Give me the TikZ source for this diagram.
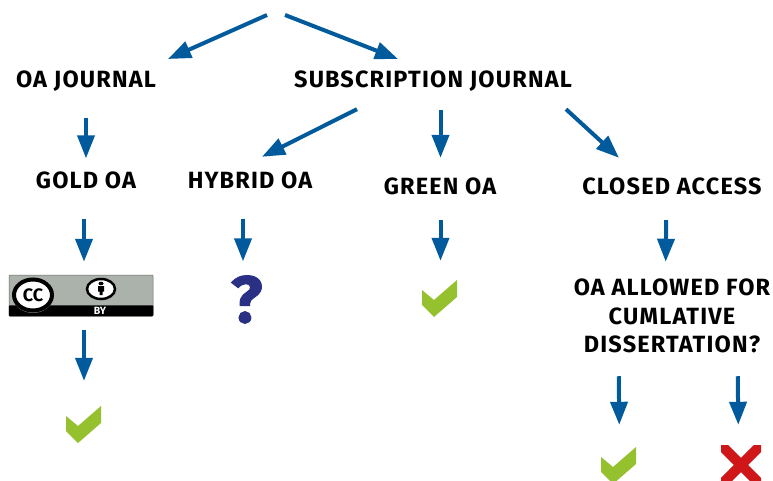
\documentclass[tikz,border=0pt]{standalone}
\usepackage{fontspec}
\setmainfont{Fira Sans}[BoldFont={Fira Sans Bold}]
\newfontfamily\titlefont{Fira Sans Bold}[LetterSpace=5]
\newfontfamily\queryfont{Fira Sans Bold}[FakeBold=1.5]
\usepackage{tikz}
\usetikzlibrary{positioning}
\usetikzlibrary{arrows.meta}
\usetikzlibrary{shapes.geometric}
\definecolor{linkblue}{HTML}{005A9C}
\definecolor{checkgreen}{HTML}{96C12F}
\definecolor{crossred}{HTML}{CF1719}
\definecolor{marknavy}{HTML}{2A3185}
\definecolor{badgegray}{HTML}{AAB2AB}
\tikzset{
  title node/.style={inner sep=0pt,text height=17pt,text depth=0pt,font=\fontsize{23.5}{28.5}\selectfont\titlefont},
  link/.style={-{Triangle[length=23pt,width=17pt]},line width=4pt,draw=linkblue,shorten <=30pt,shorten >=13pt},
  free link/.style={link,shorten <=0pt,shorten >=0pt},
  check node/.style={inner sep=0pt,minimum width=35pt,minimum height=37pt,path picture={
    \fill[checkgreen,shift={(path picture bounding box.center)}] (-17.5,-8.5) -- (-5.5,1.5) -- (17.5,-18.5) -- (17.5,-1.5) -- (-5.5,18.5) -- (-17.5,6.5) -- cycle;}},
  cross node/.style={inner sep=0pt,minimum size=40pt,path picture={
    \draw[crossred,line width=10pt,shift={(path picture bounding box.center)}] (-24,-24) -- (24,24) (-24,24) -- (24,-24);}},
  badge mark/.style={ellipse,fill=white,draw=black,inner sep=0pt},
}
\begin{document}
\begin{tikzpicture}[x=1pt,y=-1pt,on grid,>=Stealth]
  \useasboundingbox (0,0) rectangle (773,481);
  \coordinate (rootl) at (267,15);
  \coordinate (rootr) at (285,15);
  \node[title node] (oaj) at (86,79) {OA JOURNAL};
  \node[title node] (sub) [right = 347pt of oaj] {SUBSCRIPTION JOURNAL};
  \node[title node] (gold) [below = 101pt of oaj] {GOLD OA};
  \node[title node] (hybrid) [right = 164pt of gold] {HYBRID OA};
  \node[title node] (green) [below right = 107pt and 7pt of sub] {GREEN OA};
  \node[title node] (closed) [right = 232pt of green] {CLOSED ACCESS};
  \node[title node,align=center,text height=,text depth=] (allowed) [below = 130pt of closed] {OA ALLOWED FOR\\CUMLATIVE\\DISSERTATION?};

  % licence badge
  \node[fill=badgegray,draw=black!60,line width=0.5pt,rounded corners=1pt,inner sep=0pt,minimum width=144pt,minimum height=41pt] (cc) at (81,295.5) {};
  \fill[black,rounded corners=1pt] (cc.south west) rectangle ([yshift=11pt]cc.south east);
  \fill[black!25!badgegray] (33,296.5) ellipse (20pt and 16.5pt);
  \node[badge mark,line width=4pt,minimum width=38pt,minimum height=31pt,font=\bfseries\fontsize{18}{18}\selectfont] (ccmark) at (33,295) {CC};
  \node[badge mark,line width=2.5pt,minimum width=28pt,minimum height=20pt] (bymark) at (101,289) {};
  \fill[black] (101,283.5) ellipse (2.5pt and 1.8pt) (98,286) rectangle (104,291.5) (99.5,291.5) rectangle (102.5,295);
  \node[text=white,inner sep=0pt,font=\bfseries\fontsize{10.5}{10.5}\selectfont] (bytext) at (100,310.5) {BY};

  \node[check node] (chkgold) at (83.5,424.5) {};
  \node[inner sep=0pt,text=marknavy,font=\fontsize{66}{66}\selectfont\queryfont] (query) at (246.5,299.5) {?};
  \node[check node] (chkgreen) at (439.5,298.5) {};
  \node[check node] (chkyes) at (618.5,465.5) {};
  \node[cross node] (chkno) at (741,465) {};

  \draw[free link] (rootl) -- (168,59) coordinate (oatip);
  \draw[free link] (rootr) -- (398,59) coordinate (subtip);
  \draw[link] (oaj.south) -- (gold.north);
  \draw[free link] ([shift={(-76,21.5)}]sub.south) -- ([shift={(12,-14.5)}]hybrid.north);
  \draw[free link] ([shift={(7.5,22.5)}]sub.south) -- ([shift={(.5,-19.5)}]green.north);
  \draw[free link] ([shift={(133,21.5)}]sub.south) -- ([shift={(-53,-19.5)}]closed.north);
  \draw[link] ([xshift=-2pt]gold.south) -- ([xshift=3pt]cc.north);
  \draw[link,shorten >=14pt] ([xshift=-7pt]hybrid.south) -- ([xshift=-3.5pt]query.north);
  \draw[link,shorten <=25.5pt,shorten >=19pt] ([xshift=.5pt]green.south) -- ([xshift=1pt]chkgreen.north);
  \draw[link,shorten <=25.5pt,shorten >=17pt] ([xshift=-5.5pt]closed.south) -- ([xshift=-6.5pt]allowed.north);
  \draw[link,shorten <=14pt,shorten >=25pt] ([xshift=3pt]cc.south) -- ([xshift=.5pt]chkgold.north);
  \draw[link,shorten <=23pt,shorten >=22pt] ([xshift=-53.5pt]allowed.south) -- ([xshift=1pt]chkyes.north);
  \draw[link,shorten <=23pt,shorten >=20pt] ([xshift=65.5pt]allowed.south) -- ([xshift=-2.5pt]chkno.north);
\end{tikzpicture}
\end{document}
